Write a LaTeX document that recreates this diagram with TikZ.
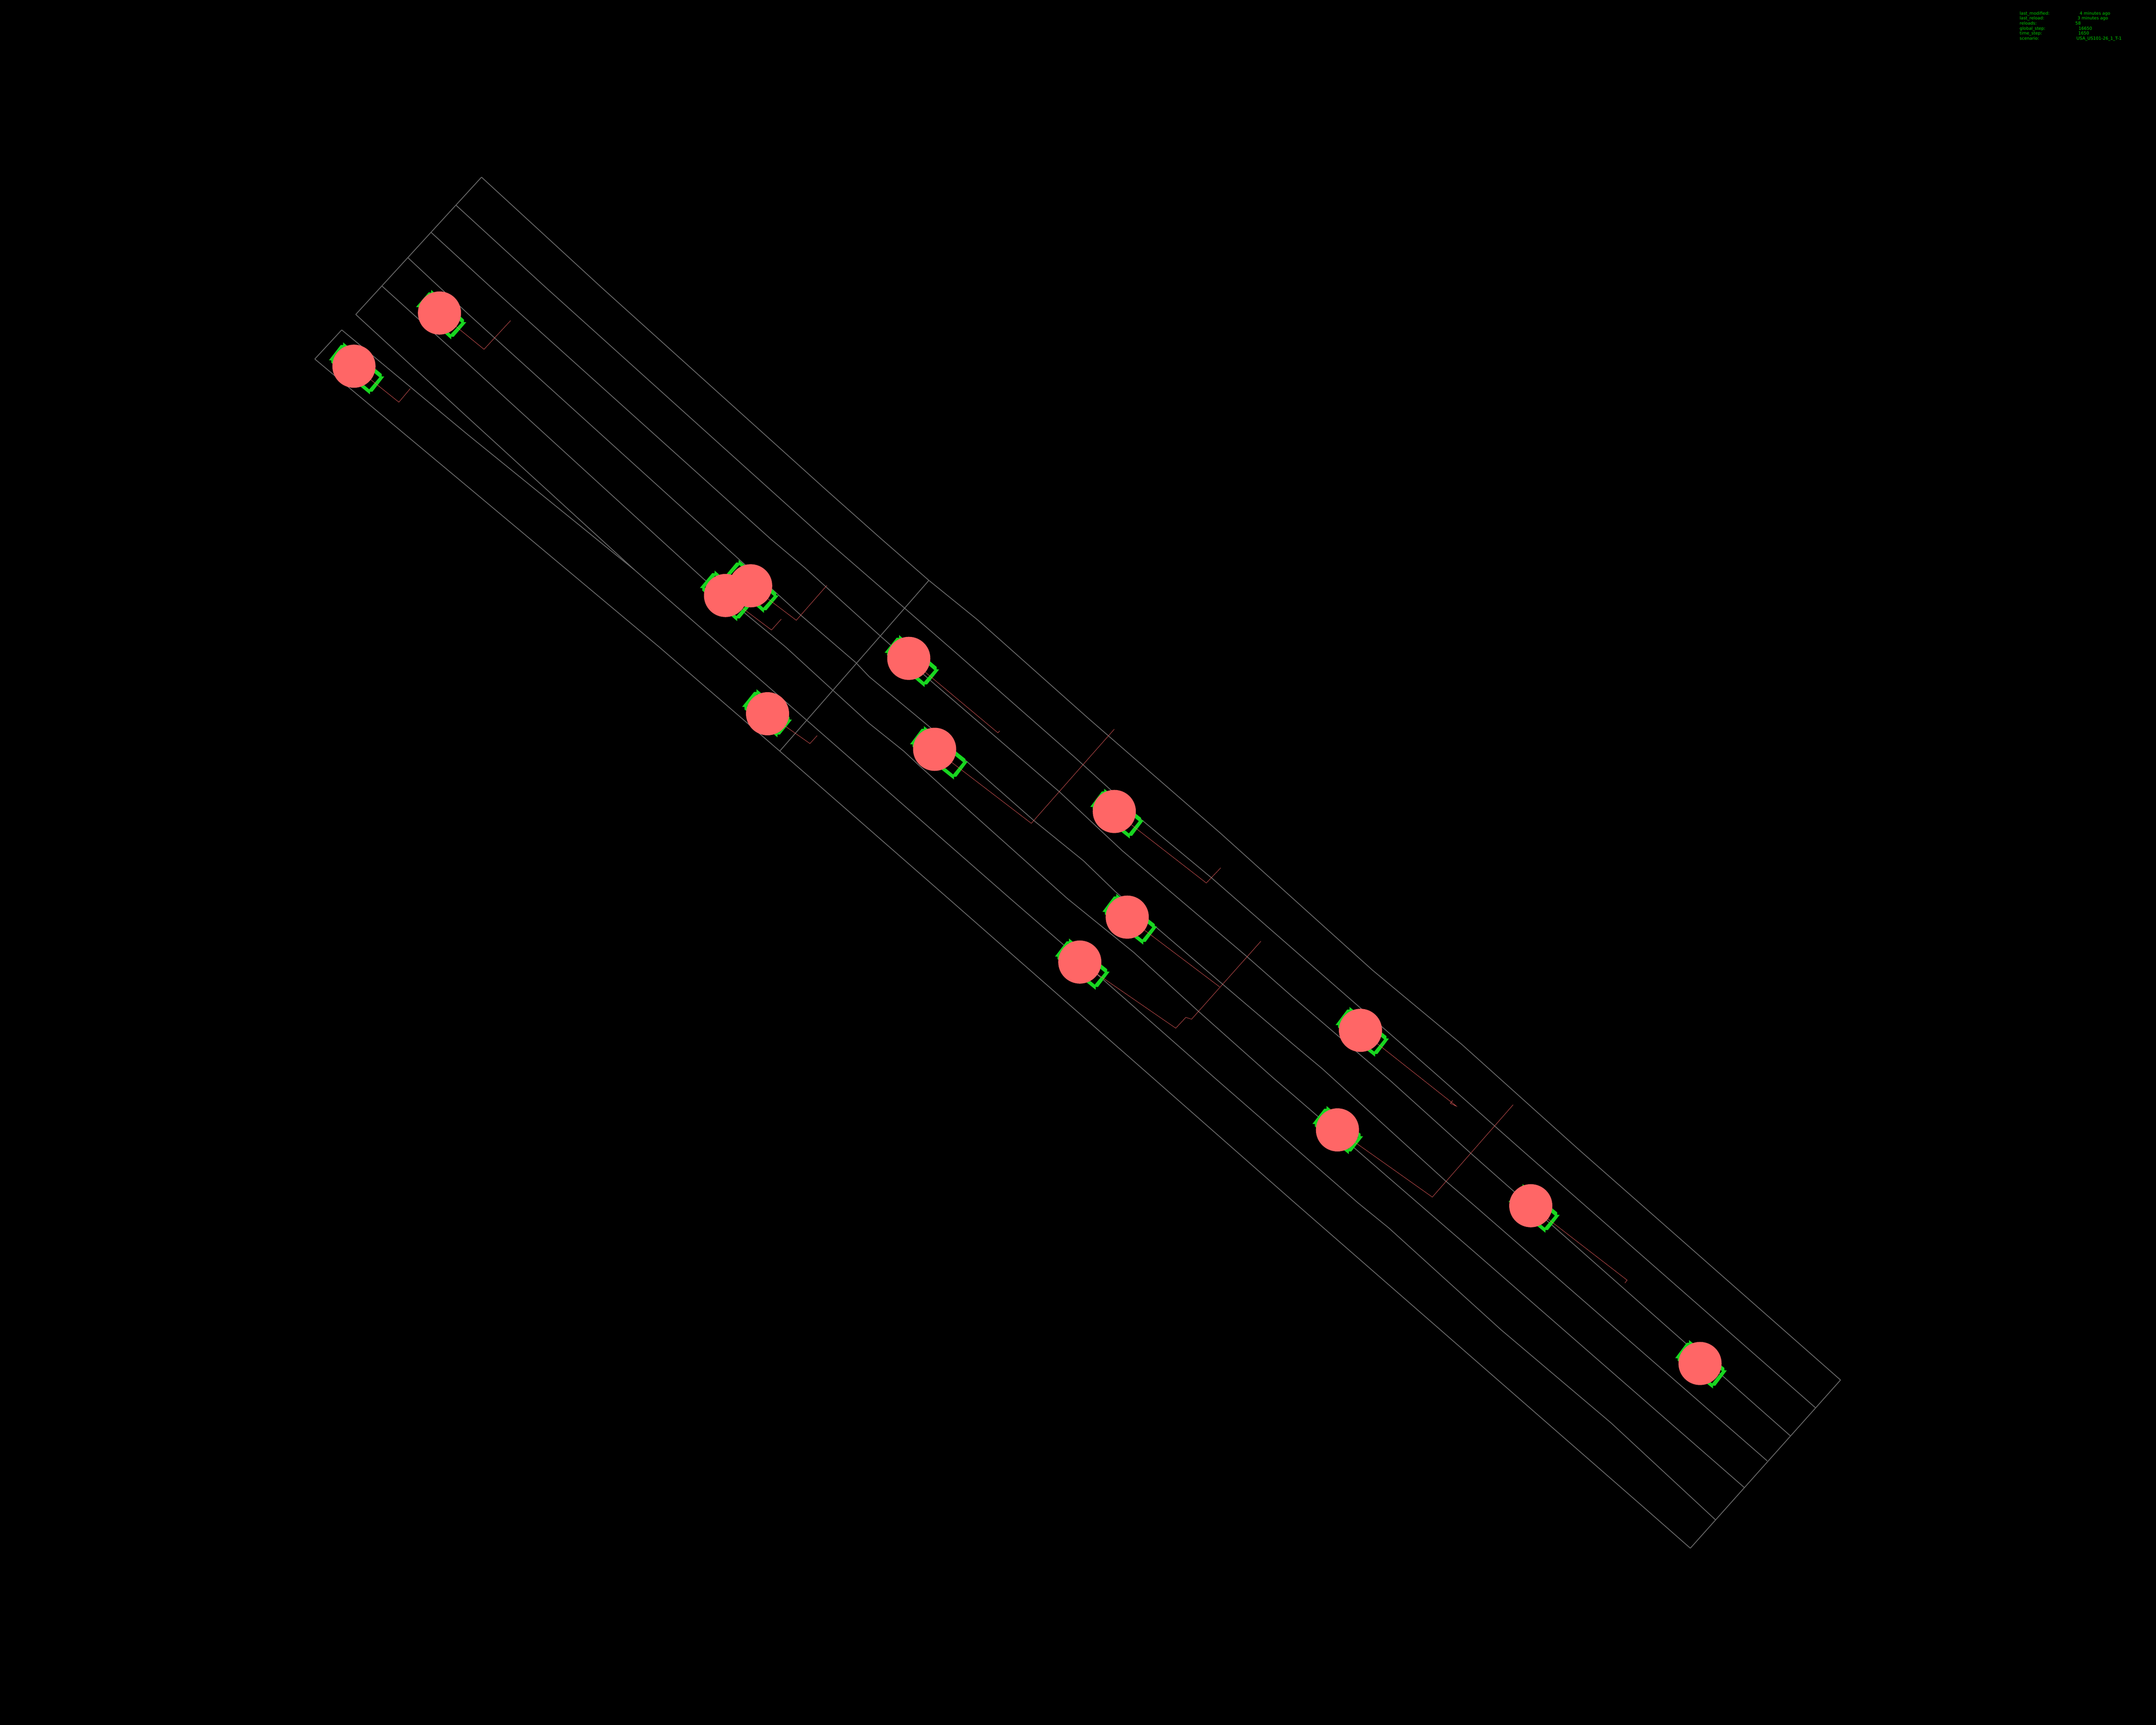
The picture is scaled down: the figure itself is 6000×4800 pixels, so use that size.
\documentclass[tikz,border=0pt]{standalone}
\usepackage{fontspec}
\setmainfont{DejaVu Sans}
\definecolor{lanegray}{HTML}{6A6A6A}
\definecolor{vehred}{HTML}{FF6666}
\definecolor{boxgreen}{HTML}{18D620}
\definecolor{infogreen}{HTML}{00CC00}
\tikzset{
  lane/.style={draw=lanegray, line width=0.6pt, line join=round},
  route/.style={draw=vehred, line width=0.22pt},
  vehbox/.style={fill=boxgreen, even odd rule},
  info/.style={text=infogreen, anchor=base west, inner sep=0pt, font=\fontsize{3.36}{4}\selectfont},
}
\def\vehlist{985/1019/40/60/79, 1223/871/43/55/68, 2089/1630/42/67/72, 2019/1657/42/63/66,
  2136/1986/41/62/58, 2529/1832/41/57/80, 2601/2085/39/58/89, 3101/2258/39/56/75,
  3137/2552/39/59/77, 3005/2677/39.5/59/77, 3786/2867/39/59/72, 3722/3144/40/60/62,
  4260/3355/40/50/74, 4731/3794/39/59/66}
\begin{document}
\begin{tikzpicture}[x={0.01cm}, y={-0.01cm}]
  \fill[black] (0,0) rectangle (6000,4800);
  \draw[lane] (1340,493) -- (1674,800) -- (2300,1364) -- (2453,1500) -- (2585,1615) -- (2722,1726) -- (3030,2000) -- (3397,2319) -- (3820,2700) -- (4069,2907) -- (4395,3200) -- (5122,3840);
  \draw[lane] (1269,571) -- (1519,800) -- (2296,1500) -- (2516,1691) -- (2655,1812) -- (2993,2109) -- (3091,2198) -- (3161,2268) -- (3372,2443) -- (3666,2700) -- (3983,2977) -- (4235,3200) -- (5052,3917);
  \draw[lane] (1199,646) -- (1367,800) -- (2145,1500) -- (2240,1580) -- (2449,1769) -- (2591,1895) -- (2776,2055) -- (2948,2203) -- (3123,2367) -- (3468,2660) -- (3595,2772) -- (3868,3006) -- (4094,3210) -- (4982,3995);
  \draw[lane] (1135,717) -- (1300,871) -- (2053,1553) -- (2231,1714) -- (2382,1844) -- (2419,1883) -- (2591,2026) -- (2661,2093) -- (2878,2284) -- (3015,2395) -- (3104,2481) -- (3222,2584) -- (3404,2740) -- (3600,2907) -- (3680,2974) -- (4024,3287) -- (4100,3352) -- (4918,4065);
  \draw[lane] (1063,796) -- (1300,1010) -- (1957,1610) -- (2186,1800) -- (2317,1920) -- (2419,2013) -- (2515,2090) -- (2559,2131) -- (2636,2201) -- (2970,2500) -- (3155,2650) -- (3334,2813) -- (3544,3000) -- (3600,3048) -- (4100,3481) -- (4854,4139);
  \draw[lane] (990,875) -- (1300,1160) -- (1766,1586) -- (2011,1800) -- (2245,2004) -- (2811,2500) -- (2977,2644) -- (3381,3000) -- (3600,3191) -- (3779,3347) -- (3865,3417) -- (4177,3700) -- (4483,3959) -- (4774,4229);
  \draw[lane] (951,918) -- (1300,1208) -- (1766,1586);
  \draw[lane] (876,999) -- (1300,1353) -- (1834,1800) -- (2170,2090) -- (2639,2500) -- (3209,3000) -- (3600,3344) -- (4008,3700) -- (4581,4200) -- (4704,4308);
  \draw[lane] (1340,493) -- (990,875);
  \draw[lane] (951,918) -- (876,999);
  \draw[lane] (2585,1615) -- (2170,2090);
  \draw[lane] (5122,3840) -- (4704,4308);
  \foreach \cx/\cy/\ang/\rr/\ff [count=\n] in \vehlist {
    \coordinate (v\n) at (\cx,\cy);
    \begin{scope}[shift={(\cx,\cy)}, rotate=-\ang]
      \fill[vehbox] ({\ff-5.6},-33) -- ({\ff-1.5},-28) -- ({\ff+4},-32) -- ({\ff+6},21.4) -- ({\ff+1},25.6) -- ({\ff+5.8},31.3)
        -- ({-\rr+5.6},33) -- ({-\rr+1.5},28) -- ({-\rr-4},32) -- ({-\rr-6},-21.4) -- ({-\rr-1},-25.6) -- ({-\rr-5.8},-31.3) -- cycle
        ({\ff-5},-22) -- ({\ff-5},22) -- ({-\rr+5},22) -- ({-\rr+5},-22) -- cycle;
    \end{scope}
  }
  \draw[route] (v1) -- (1110,1119) -- (1142,1081);
  \draw[route] (v2) -- (1347,972) -- (1421,892);
  \draw[route] (v3) -- (2216,1726) -- (2301,1629);
  \draw[route] (v4) -- (2147,1753) -- (2174,1723);
  \draw[route] (v5) -- (2254,2069) -- (2274,2047);
  \draw[route] (v6) -- (2777,2039) -- (2782,2034);
  \draw[route] (v7) -- (2870,2291) -- (3101,2029);
  \draw[route] (v8) -- (3357,2457) -- (3397,2415);
  \draw[route] (v9) -- (3394,2746);
  \draw[route] (v10) -- (3272,2861) -- (3300,2831) -- (3316,2836) -- (3509,2619);
  \draw[route] (v11) -- (4053,3078) -- (4036,3070) -- (4043,3062);
  \draw[route] (v12) -- (3986,3331) -- (4211,3074);
  \draw[route] (v13) -- (4528,3562) -- (4522,3570);
  \foreach \n in {1,...,14} {
    \fill[vehred] (v\n) circle[radius=60];
  }
  \foreach \lab/\val/\vx [count=\n] in {last\_modified:/4 minutes ago/5787, last\_reload:/3 minutes ago/5781,
      reloads:/58/5775, global\_step:/16650/5784, time\_step:/1650/5783, scenario:/USA\_US101-26\_1\_T-1/5778} {
    \node[info] (lab\n) at (5620,{27+14*\n}) {\lab};
    \node[info] (val\n) at (\vx,{27+14*\n}) {\val};
  }
\end{tikzpicture}
\end{document}
